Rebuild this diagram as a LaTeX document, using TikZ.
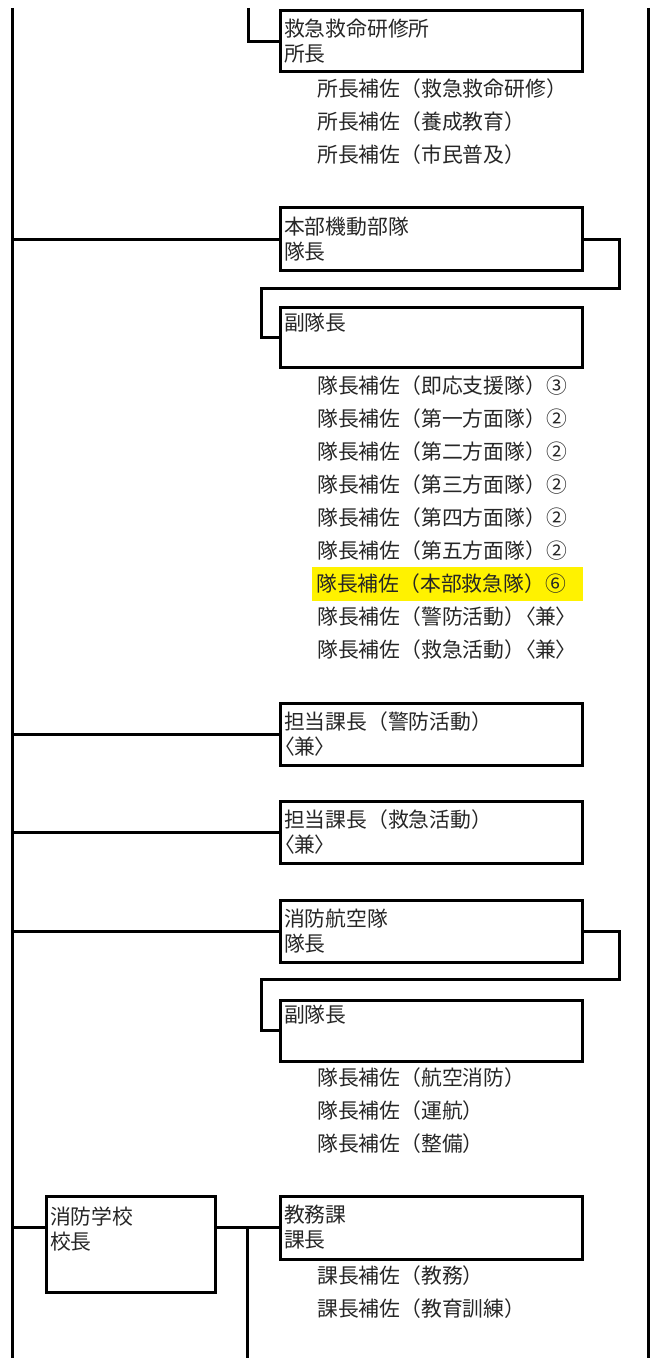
\documentclass[tikz,border=0pt]{standalone}
\usepackage{fontspec}
\setmainfont{Noto Sans CJK JP}
\newfontfamily\jpprop[RawFeature=+palt]{Noto Sans CJK JP}
\newcommand{\kenmark}{{\jpprop〈兼〉}}
\usepackage{xcolor}
\usepackage{tikz}
\usetikzlibrary{calc}

\begin{document}
\begin{tikzpicture}[x=0.75pt,y=-0.75pt,
  box/.style={draw,line width=2.25pt,anchor=north west,minimum width=227pt,
    text width=221pt,align=left,inner xsep=3pt,inner ysep=0pt,
    font=\fontsize{15.6}{18.75}\selectfont,text=black!85},
  item/.style={anchor=west,inner xsep=3pt,inner ysep=0pt,
    font=\fontsize{15.6}{18.75}\selectfont,text=black!85},
  conn/.style={line width=2.25pt}
]
\useasboundingbox (0,0) rectangle (657,1358);
\coordinate (lt) at (12,8);
\coordinate (lb) at (12,1358);
\coordinate (rt) at (648,8);
\coordinate (rb) at (648,1358);
\coordinate (at) at (248,8);
\coordinate (ib) at (247,1358);

\node[box,minimum height=45.75pt] (kyu) at (278.5,9.5) {救急救命研修所\\所長};
\node[item] (kyu1) at (313,89) {所長補佐（救急救命研修）};
\node[item] (kyu2) at (313,122) {所長補佐（養成教育）};
\node[item] (kyu3) at (313,155) {所長補佐（市民普及）};

\node[box,minimum height=47.25pt] (hon) at (278.5,206.5) {本部機動部隊\\隊長};
\node[box,minimum height=45pt] (honf) at (278.5,306.5) {副隊長\\\strut};
\node[item] (hon1) at (313,386) {隊長補佐（即応支援隊）③};
\node[item] (hon2) at (313,419) {隊長補佐（第一方面隊）②};
\node[item] (hon3) at (313,452) {隊長補佐（第二方面隊）②};
\node[item] (hon4) at (313,485) {隊長補佐（第三方面隊）②};
\node[item] (hon5) at (313,518) {隊長補佐（第四方面隊）②};
\node[item] (hon6) at (313,551) {隊長補佐（第五方面隊）②};
\node[item,fill=yellow,minimum height=25.5pt,text width=197.25pt,align=left] (hon7) at (312,584) {隊長補佐（本部救急隊）⑥};
\node[item] (hon8) at (313,617) {隊長補佐（警防活動）\kenmark};
\node[item] (hon9) at (313,650) {隊長補佐（救急活動）\kenmark};

\node[box,minimum height=46.5pt] (keibo) at (278.5,701.5) {担当課長（警防活動）\\\kenmark};
\node[box,minimum height=46.5pt] (kyukatsu) at (278.5,799.5) {担当課長（救急活動）\\\kenmark};

\node[box,minimum height=46.5pt] (koku) at (278.5,898.5) {消防航空隊\\隊長};
\node[box,minimum height=45.75pt] (kokuf) at (278.5,998.5) {副隊長\\\strut};
\node[item] (koku1) at (313,1078) {隊長補佐（航空消防）};
\node[item] (koku2) at (313,1111) {隊長補佐（運航）};
\node[item] (koku3) at (313,1144) {隊長補佐（整備）};

\node[box,minimum width=127pt,text width=121pt,minimum height=72pt] (gakko) at (44.5,1194.5) {消防学校\\校長\\\strut};
\node[box,minimum height=47.25pt] (kyomu) at (278.5,1194.5) {教務課\\課長};
\node[item] (kyomu1) at (313,1276) {課長補佐（教務）};
\node[item] (kyomu2) at (313,1309) {課長補佐（教育訓練）};

\draw[conn] (lt) -- (lb);
\draw[conn] (rt) -- (rb);
\draw[conn] (at) |- (kyu.west);
\draw[conn] (hon.west) -- (hon.west -| lt);
\draw[conn] (hon.east) -- ++(35,0) |- (261,289) |- (honf.west);
\draw[conn] (keibo.west) -- (keibo.west -| lt);
\draw[conn] (kyukatsu.west) -- (kyukatsu.west -| lt);
\draw[conn] (koku.west) -- (koku.west -| lt);
\draw[conn] (koku.east) -- ++(35,0) |- (261,979) |- (kokuf.west);
\draw[conn] (kyomu.west -| lt) -- (gakko.west |- kyomu.west);
\draw[conn] (gakko.east |- kyomu.west) -- (kyomu.west);
\draw[conn] (ib |- kyomu.west) -- (ib);
\end{tikzpicture}
\end{document}
